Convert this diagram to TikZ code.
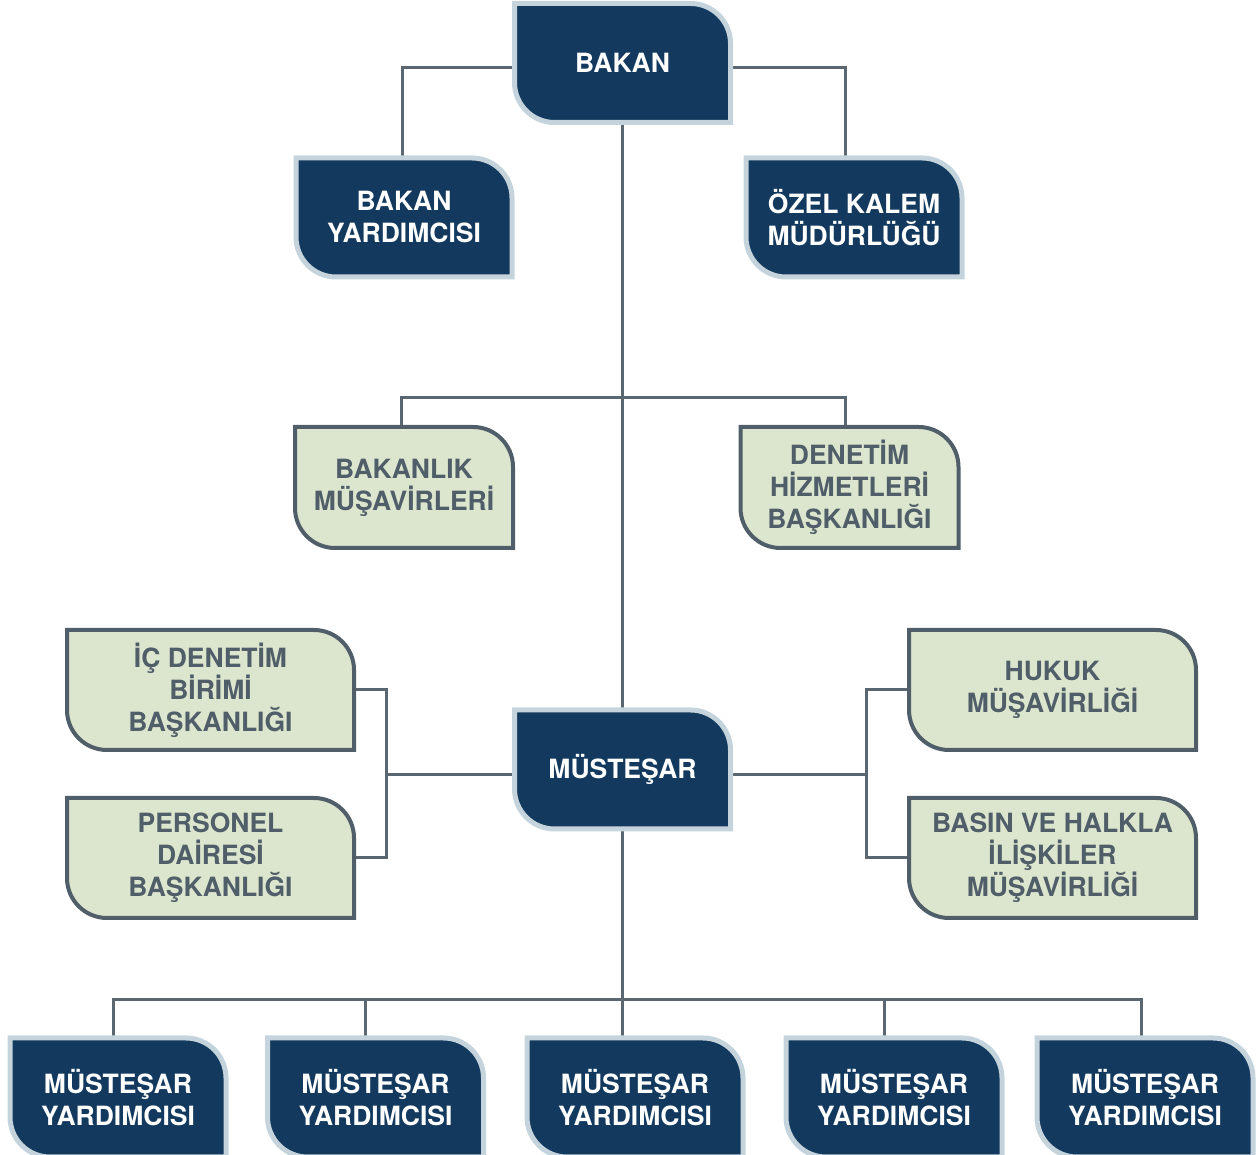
\documentclass[tikz,border=0pt]{standalone}
\usepackage{fontspec}
\setmainfont{TeX Gyre Heros}
\usetikzlibrary{positioning}
\definecolor{navy}{HTML}{133A5E}
\definecolor{navyrim}{HTML}{C5D4DC}
\definecolor{sage}{HTML}{DCE6CE}
\definecolor{slate}{HTML}{4F5E68}
\definecolor{wirecol}{HTML}{5A6670}
\pgfdeclarelayer{wires}
\pgfdeclarelayer{plates}
\pgfsetlayers{wires,plates,main}
\tikzset{txt/.style={font=\fontsize{26.5}{32}\selectfont\bfseries,align=center,inner sep=0pt,outer sep=0pt}}
\tikzset{darkbox/.style={txt,text=white,minimum width=216pt,minimum height=119pt}}
\tikzset{lightbox/.style={txt,text=slate,minimum width=218pt,minimum height=121pt}}
\tikzset{widebox/.style={txt,text=slate,minimum width=287pt,minimum height=120pt}}
\tikzset{plate/.style={insert path={(#1.north west) -- ([xshift=-40pt]#1.north east)
  arc[start angle=90,end angle=0,radius=40pt] -- (#1.south east) -- ([xshift=40pt]#1.south west)
  arc[start angle=270,end angle=180,radius=40pt] -- cycle}}}
\tikzset{navyplate/.style={fill=navy,draw=navyrim,line width=5pt}}
\tikzset{sageplate/.style={fill=sage,draw=slate,line width=4pt}}
\tikzset{wire/.style={draw=wirecol,line width=3pt}}

\begin{document}
\begin{tikzpicture}[x=1pt,y=1pt]
        \useasboundingbox (0,0) rectangle (1257,1155);
        % minister
        \node[darkbox](bakan) at (622.5,1092){BAKAN};
        \node[darkbox](bakanyrd) at (404,937.5){BAKAN\\YARDIMCISI};
        \node[darkbox](ozelkalem) at (854,937.5){ÖZEL KALEM\\MÜDÜRLÜĞÜ};
        \node[lightbox](bakmus) at (404,667.5){BAKANLIK\\MÜŞAVİRLERİ};
        \node[lightbox](denetim) at (849.5,667.5){DENETİM\\HİZMETLERİ\\BAŞKANLIĞI};
        % undersecretary
        \node[darkbox](mustesar) at (622.5,385.5){MÜSTEŞAR};
        \node[widebox](icdenetim) at (210.5,465){İÇ DENETİM\\BİRİMİ\\BAŞKANLIĞI};
        \node[widebox,below=48pt of icdenetim](personel){PERSONEL\\DAİRESİ\\BAŞKANLIĞI};
        \node[widebox](hukuk) at (1052.5,465){HUKUK\\MÜŞAVİRLİĞİ};
        \node[widebox,below=48pt of hukuk](basin){BASIN VE HALKLA\\İLİŞKİLER\\MÜŞAVİRLİĞİ};
        \foreach \i/\x in {1/118,2/375.5,3/635,4/894,5/1145}
          \node[darkbox](myrd\i) at (\x,57.5){MÜSTEŞAR\\YARDIMCISI};
        \begin{pgfonlayer}{plates}
          \foreach \n in {bakan,bakanyrd,ozelkalem,mustesar,myrd1,myrd2,myrd3,myrd4,myrd5}
            \draw[navyplate][plate=\n];
          \foreach \n in {bakmus,denetim,icdenetim,personel,hukuk,basin}
            \draw[sageplate][plate=\n];
        \end{pgfonlayer}
        \begin{pgfonlayer}{wires}
          \draw[wire] ([yshift=-5pt]bakan.west) -| ([xshift=-2pt]bakanyrd.north);
          \draw[wire] ([yshift=-5pt]bakan.east) -| ([xshift=-9pt]ozelkalem.north);
          \draw[wire] (bakan.south) -- (mustesar.north);
          \coordinate (midbus) at (622.5,757);
          \draw[wire] ([xshift=-3pt]bakmus.north) |- (midbus) -| ([xshift=-4.5pt]denetim.north);
          \coordinate (lbrace) at (386,380);
          \draw[wire] (icdenetim.east) -| (lbrace) |- (personel.east);
          \draw[wire] (lbrace) -- (lbrace -| mustesar.west);
          \coordinate (rbrace) at (866,380);
          \draw[wire] (hukuk.west) -| (rbrace) |- (basin.west);
          \draw[wire] (rbrace) -- (rbrace -| mustesar.east);
          \draw[wire] (mustesar.south) -- (mustesar.south |- myrd3.north);
          \coordinate (lowbus) at (622.5,155);
          \foreach \i/\dx in {1/-5,2/-10.5,4/-10,5/-4}
            \draw[wire] (lowbus) -| ([xshift=\dx pt]myrd\i.north);
        \end{pgfonlayer}
      \end{tikzpicture}
\end{document}
